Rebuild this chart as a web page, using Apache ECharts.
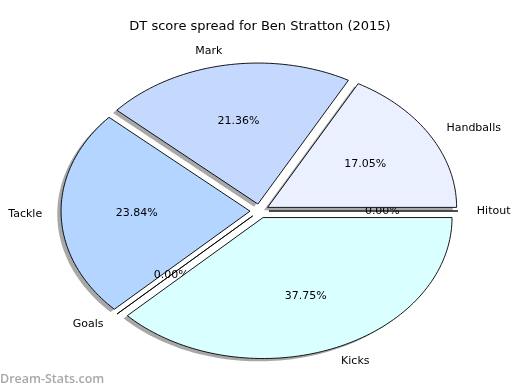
<!DOCTYPE html>
<html>
<head>
<meta charset="utf-8">
<script src="https://cdn.jsdelivr.net/npm/echarts@6/dist/echarts.min.js"></script>
<style>html,body{margin:0;padding:0;background:#fff;}#c{width:520px;height:390px;}</style>
</head>
<body>
<div id="c"></div>
<script>
const categories = ['Hitout', 'Handballs', 'Mark', 'Tackle', 'Goals', 'Kicks'];
const percents = [0, 17.05, 21.36, 23.84, 0, 37.75];
const sliceColors = ['#F0F8FF', '#EAF0FF', '#C5D9FF', '#B3D5FF', '#E0EEFF', '#D9FFFF'];
const titleText = 'DT score spread for Ben Stratton (2015)';
const explode = 0.05;

const total = percents.reduce((a, b) => a + b, 0);
const starts = [];
let acc = 0;
percents.forEach(v => { starts.push(acc / total * 360); acc += v; });

function rad(d) { return d * Math.PI / 180; }

function wedge(api, i, dx, dy) {
  const t1 = starts[i];
  const t2 = t1 + api.value(1) / total * 360;
  const mid = rad((t1 + t2) / 2);
  const ex = explode * Math.cos(mid) + dx, ey = explode * Math.sin(mid) + dy;
  const pts = [api.coord([ex, ey])];
  const n = Math.max(2, Math.ceil((t2 - t1) / 1.5));
  for (let k = 0; k <= n; k++) {
    const t = rad(t1 + (t2 - t1) * k / n);
    pts.push(api.coord([ex + Math.cos(t), ey + Math.sin(t)]));
  }
  return { pts, mid, ex: explode * Math.cos(mid), ey: explode * Math.sin(mid) };
}

const chart = echarts.init(document.getElementById('c'), null, { renderer: 'canvas' });
const seriesData = percents.map((v, i) => [i, v]);

chart.setOption({
  animation: false,
  backgroundColor: '#ffffff',
  title: {
    text: titleText, left: 'center', top: 15,
    textStyle: { fontFamily: 'DejaVu Sans', fontSize: 13, fontWeight: 'normal', color: '#000' }
  },
  grid: { left: 259.5 - 1.25 * 189, width: 2.5 * 189, top: 211 - 1.25 * 141, height: 2.5 * 141 },
  xAxis: { type: 'value', min: -1.25, max: 1.25, show: false },
  yAxis: { type: 'value', min: -1.25, max: 1.25, show: false },
  graphic: [{
    type: 'text', left: 0, top: 373,
    style: { text: 'Dream-Stats.com', fill: '#a8a8a8', font: '600 12.5px "Open Sans"' }
  }],
  series: [
    {
      type: 'custom', z: 1, clip: false, data: seriesData,
      renderItem: function (params, api) {
        const w = wedge(api, params.dataIndex, -0.02, -0.02);
        return { type: 'polygon', shape: { points: w.pts }, style: { fill: '#999999', stroke: 'none', opacity: 0.85 } };
      }
    },
    {
      type: 'custom', z: 2, clip: false, data: seriesData,
      renderItem: function (params, api) {
        const i = params.dataIndex;
        const w = wedge(api, i, 0, 0);
        const c = Math.cos(w.mid), s = Math.sin(w.mid);
        const lp = api.coord([w.ex + 1.1 * c, w.ey + 1.1 * s]);
        const pp = api.coord([w.ex + 0.6 * c, w.ey + 0.6 * s]);
        return {
          type: 'group',
          children: [
            { type: 'polygon', shape: { points: w.pts }, style: { fill: sliceColors[i], stroke: '#000', lineWidth: 0.9 } },
            { type: 'text', x: lp[0], y: lp[1], style: { text: categories[i], fill: '#000', font: '11px "DejaVu Sans"', align: (w.ex + 1.1 * c) > 0 ? 'left' : 'right', verticalAlign: 'middle' } },
            { type: 'text', x: pp[0], y: pp[1], style: { text: api.value(1).toFixed(2) + '%', fill: '#000', font: '11px "DejaVu Sans"', align: 'center', verticalAlign: 'middle' } }
          ]
        };
      }
    }
  ]
});
</script>
</body>
</html>
